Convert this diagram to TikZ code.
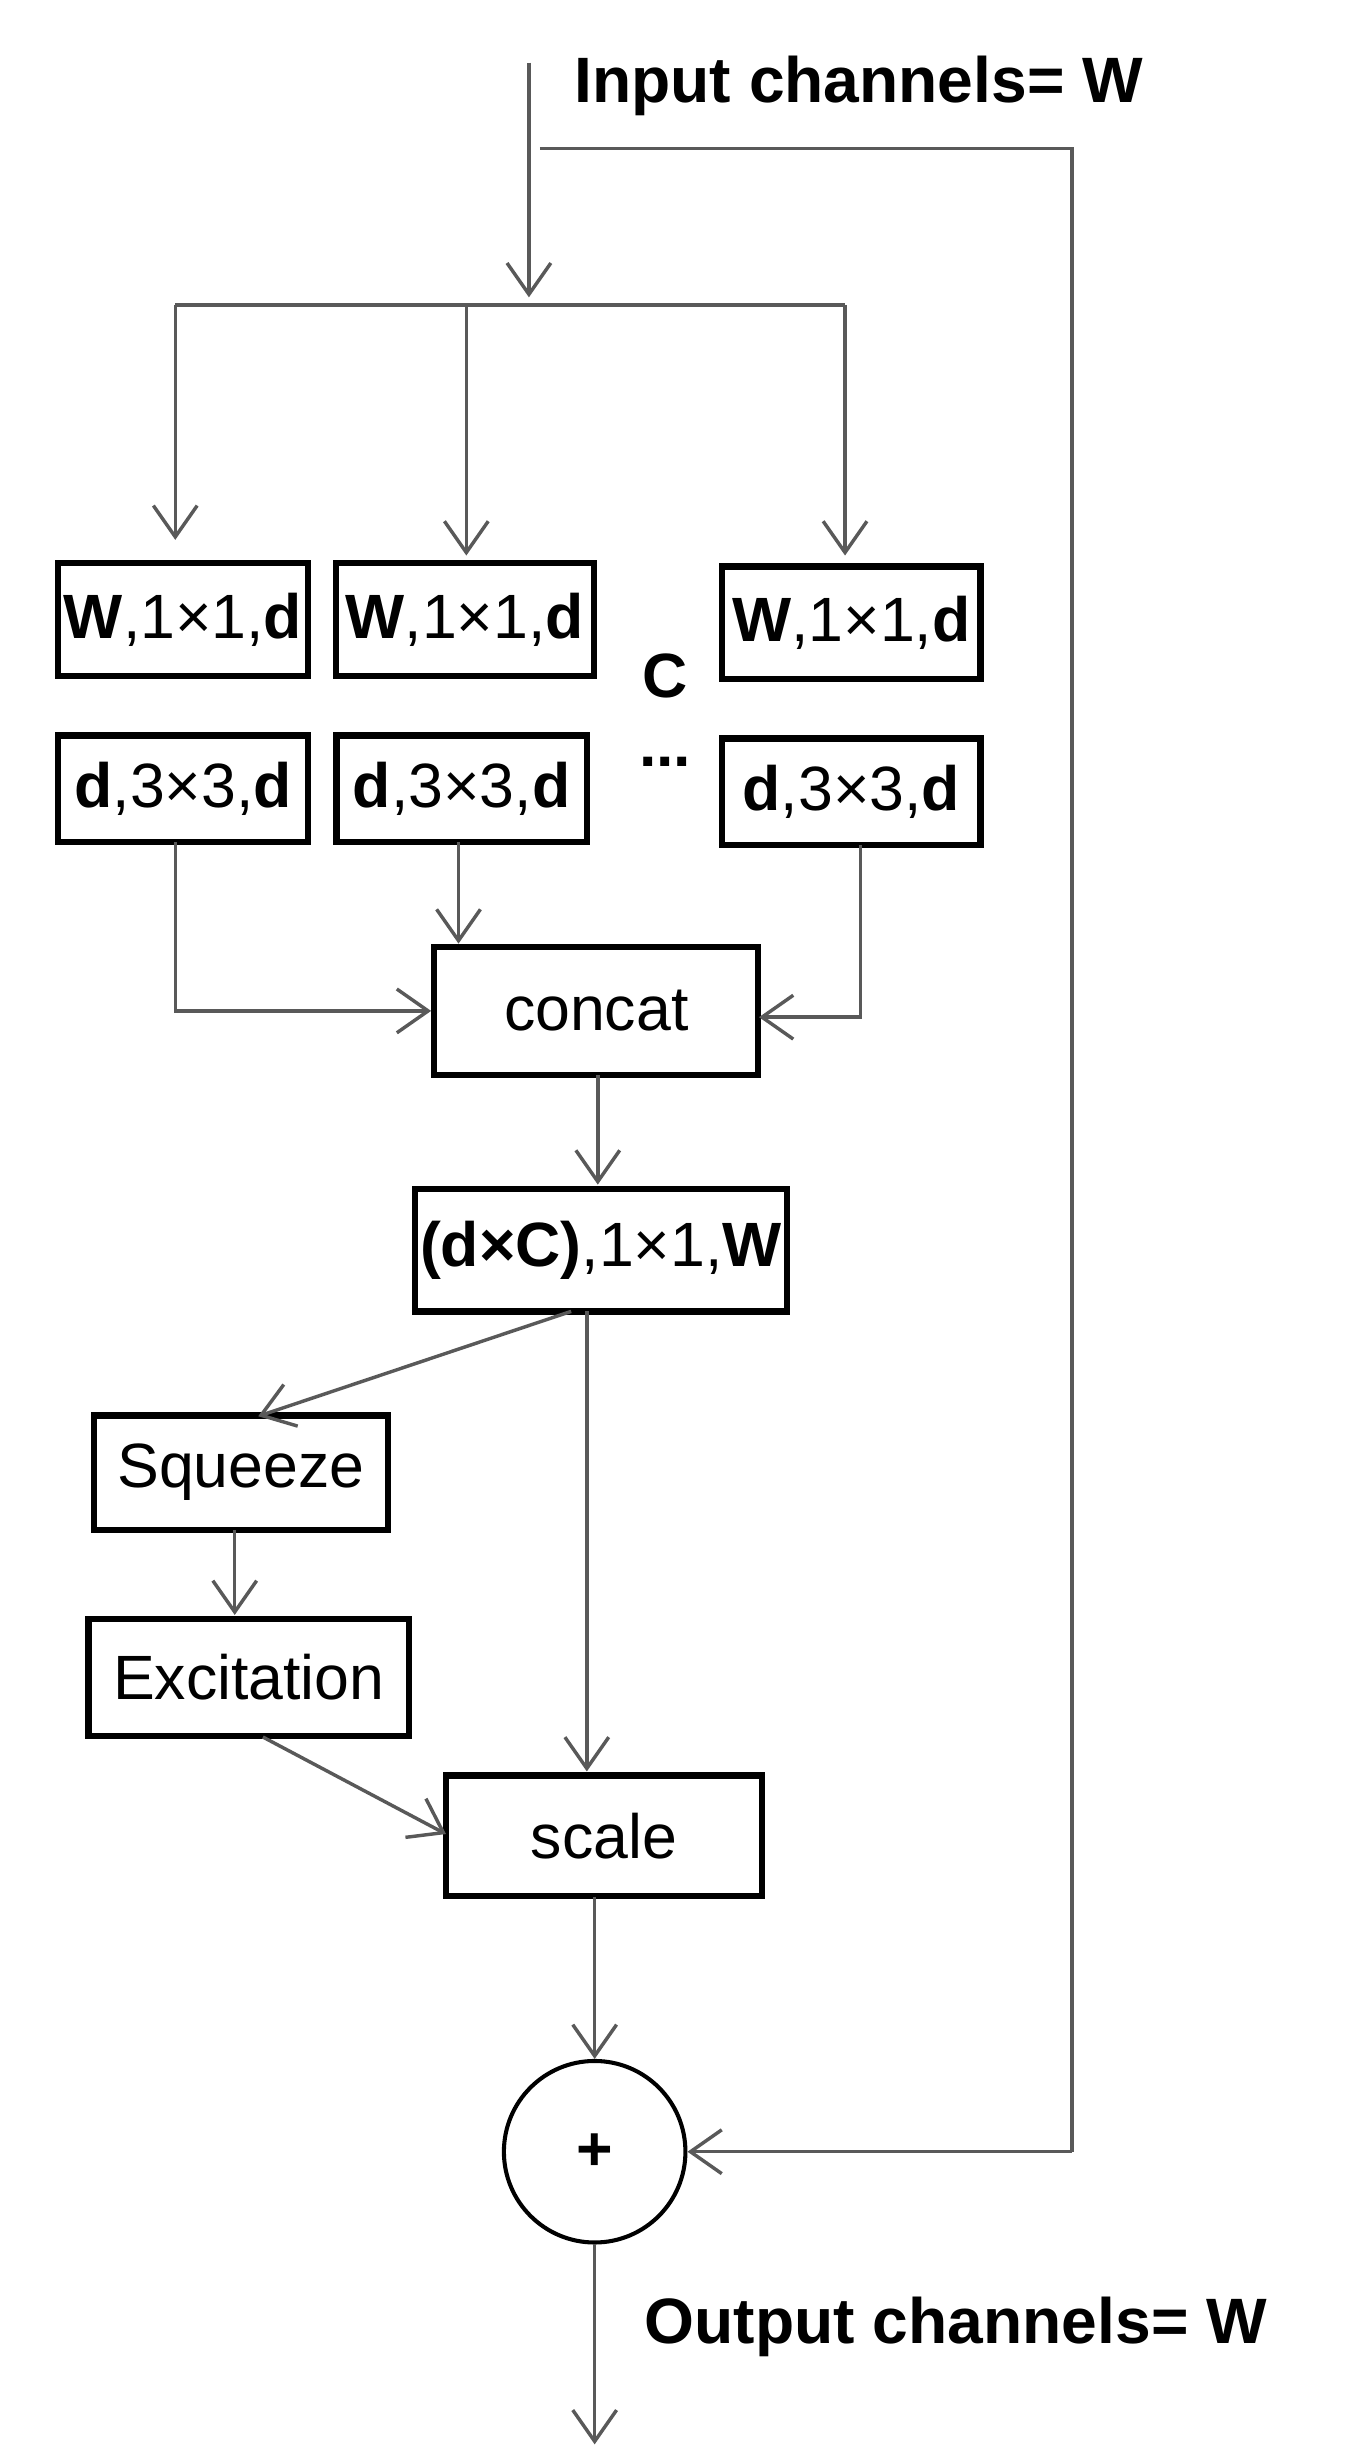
\documentclass[tikz,border=0pt]{standalone}
\usepackage{fontspec}
\setmainfont{Liberation Sans}
\usetikzlibrary{arrows.meta}
\begin{document}
\begin{tikzpicture}[x=0.5pt,y=-0.5pt,
 box/.style={draw=black,line width=2pt,inner sep=0pt},
 ln/.style={draw=black!65,line width=1.1pt},
 ar/.style={ln,-{Straight Barb[length=10pt,width=14pt]}},
 txt/.style={font=\fontsize{20}{24}\selectfont}]
\useasboundingbox (0,0) rectangle (860,1572);
% boxes
\node[box,minimum width=160*0.5pt,minimum height=72*0.5pt,txt] (a1) at (117,396) {\textbf{W},1×1,\textbf{d}};
\node[box,minimum width=165*0.5pt,minimum height=72*0.5pt,txt] (a2) at (297,396) {\textbf{W},1×1,\textbf{d}};
\node[box,minimum width=165*0.5pt,minimum height=72*0.5pt,txt] (a3) at (544,398) {\textbf{W},1×1,\textbf{d}};
\node[box,minimum width=160*0.5pt,minimum height=68*0.5pt,txt] (b1) at (117,504) {\textbf{d},3×3,\textbf{d}};
\node[box,minimum width=160*0.5pt,minimum height=68*0.5pt,txt] (b2) at (295,504) {\textbf{d},3×3,\textbf{d}};
\node[box,minimum width=165*0.5pt,minimum height=68*0.5pt,txt] (b3) at (544,506) {\textbf{d},3×3,\textbf{d}};
\node[font=\fontsize{20}{24}\selectfont\bfseries,inner sep=0pt] (c) at (425,432) {C};
\node[font=\fontsize{20}{24}\selectfont\bfseries,inner sep=0pt,anchor=base] (dots) at (425,490) {...};
\node[box,minimum width=207*0.5pt,minimum height=82*0.5pt,txt] (concat) at (381,646) {concat};
\node[box,minimum width=238*0.5pt,minimum height=78*0.5pt,txt] (dc) at (384,799) {\textbf{(d×C)},1×1,\textbf{W}};
\node[box,minimum width=188*0.5pt,minimum height=73*0.5pt,txt] (sq) at (154,941) {Squeeze};
\node[box,minimum width=205*0.5pt,minimum height=75*0.5pt,txt] (ex) at (159,1072) {Excitation};
\node[box,minimum width=202*0.5pt,minimum height=77*0.5pt,txt] (sc) at (386,1173) {scale};
\node[draw=black,line width=1.3pt,circle,minimum size=116*0.5pt,inner sep=0pt,font=\fontsize{20}{24}\selectfont\bfseries] (plus) at (380,1375) {+};
\node[anchor=west,font=\fontsize{20.5}{24}\selectfont\bfseries] (in) at (360,55) {Input channels= W};
\node[anchor=west,font=\fontsize{20.5}{24}\selectfont\bfseries] (out) at (405,1487) {Output channels= W};
% coordinates
\coordinate (top) at (338,40);
\coordinate (bus) at (338,190);
\coordinate (bl) at (112,195);
\coordinate (bm) at (298,195);
\coordinate (br) at (540,195);
\coordinate (s1) at (345,95);
\coordinate (s2) at (685,95);
\coordinate (s3) at (685,1375);
\coordinate (end) at (380,1562);
% arrows
\draw[ar] (top) -- (bus);
\draw[ln] (bl) -- (br);
\draw[ar] (bl) -- (112,345);
\draw[ar] (bm) -- (298,355);
\draw[ar] (br) -- (540,355);
\draw[ln] (s1) -- (s2) -- (s3);
\draw[ar] (s3) -- (plus.east);
\draw[ar] (112,538) |- (concat.west);
\draw[ar] (293,538) -- (293,603);
\draw[ar] (550,540) |- (485,650);
\draw[ar] (382,687) -- (382,757);
\draw[ar] (365,838) -- (165,905);
\draw[ar] (150,978) -- (150,1032);
\draw[ar] (168,1110) -- (285,1172);
\draw[ar] (375,838) -- (375,1132);
\draw[ar] (380,1212) -- (plus.north);
\draw[ar] (plus.south) -- (end);
\end{tikzpicture}
\end{document}
